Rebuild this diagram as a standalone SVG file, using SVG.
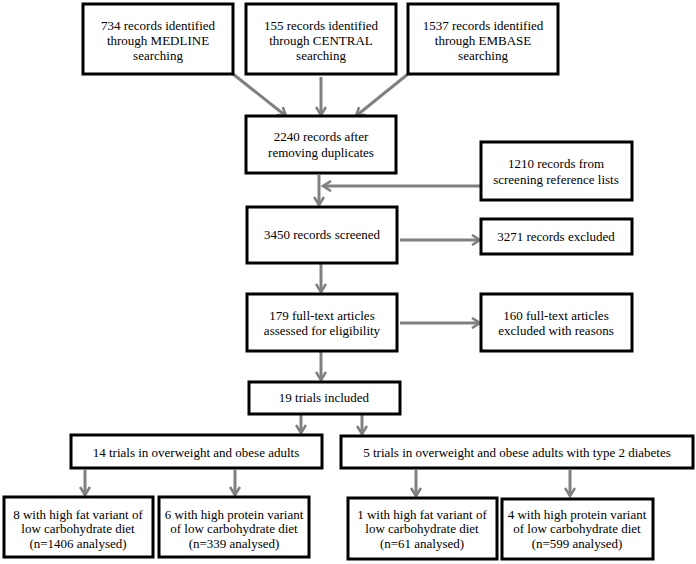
<svg xmlns="http://www.w3.org/2000/svg" width="696" height="564" viewBox="0 0 696 564" font-family="Liberation Serif, serif">
<style>
.box{fill:#fff;stroke:#000;stroke-width:3}
.t{font-size:13px;fill:#000;text-anchor:middle}
.c{fill:none;stroke:#808080;stroke-width:3;marker-end:url(#ah)}
</style>
<defs>
<marker id="ah" viewBox="0 0 12 12" refX="10" refY="6" markerWidth="12" markerHeight="12" markerUnits="userSpaceOnUse" orient="auto">
<path d="M2,1 L10,6 L2,11" fill="none" stroke="#808080" stroke-width="2.6"/>
</marker>
</defs>
<rect width="696" height="564" fill="#fff"/>
<g id="connectors">
<line class="c" x1="233" y1="74" x2="286" y2="116"/>
<line class="c" x1="321" y1="77" x2="321" y2="115"/>
<line class="c" x1="408" y1="74" x2="356" y2="116"/>
<line class="c" x1="481" y1="186" x2="323" y2="186"/>
<line class="c" x1="319" y1="175" x2="319" y2="205"/>
<line class="c" x1="400" y1="240" x2="480" y2="240"/>
<line class="c" x1="321" y1="264" x2="321" y2="292"/>
<line class="c" x1="400" y1="323" x2="480" y2="323"/>
<line class="c" x1="321" y1="352" x2="321" y2="380"/>
<line class="c" x1="301" y1="415" x2="301" y2="433"/>
<line class="c" x1="362" y1="415" x2="362" y2="434"/>
<line class="c" x1="85" y1="470" x2="85" y2="495"/>
<line class="c" x1="235" y1="470" x2="235" y2="495"/>
<line class="c" x1="416" y1="470" x2="416" y2="496"/>
<line class="c" x1="570" y1="470" x2="570" y2="496"/>
</g>
<g id="medline"><rect class="box" x="83" y="4" width="150" height="70"/>
<text class="t" x="158" y="30">734 records identified</text><text class="t" x="158" y="45">through MEDLINE</text><text class="t" x="158" y="60">searching</text></g>
<g id="central"><rect class="box" x="246" y="4" width="150" height="70"/>
<text class="t" x="321" y="30">155 records identified</text><text class="t" x="321" y="45">through CENTRAL</text><text class="t" x="321" y="60">searching</text></g>
<g id="embase"><rect class="box" x="408" y="4" width="150" height="70"/>
<text class="t" x="483" y="30">1537 records identified</text><text class="t" x="483" y="45">through EMBASE</text><text class="t" x="483" y="60">searching</text></g>
<g id="dedup"><rect class="box" x="246" y="116" width="150" height="57"/>
<text class="t" x="321" y="141">2240 records after</text><text class="t" x="321" y="157">removing duplicates</text></g>
<g id="reflists"><rect class="box" x="481" y="142" width="151" height="58"/>
<text class="t" x="556" y="168">1210 records from</text><text class="t" x="556" y="184">screening reference lists</text></g>
<g id="screened"><rect class="box" x="247" y="207" width="150" height="56"/>
<text class="t" x="322" y="239">3450 records screened</text></g>
<g id="excluded"><rect class="box" x="481" y="219" width="151" height="35"/>
<text class="t" x="556" y="241">3271 records excluded</text></g>
<g id="fulltext"><rect class="box" x="247" y="294" width="150" height="57"/>
<text class="t" x="322" y="320">179 full-text articles</text><text class="t" x="322" y="335">assessed for eligibility</text></g>
<g id="ftexcluded"><rect class="box" x="481" y="294" width="151" height="57"/>
<text class="t" x="556" y="320">160 full-text articles</text><text class="t" x="556" y="335">excluded with reasons</text></g>
<g id="included"><rect class="box" x="249" y="382" width="151" height="32"/>
<text class="t" x="324" y="402">19 trials included</text></g>
<g id="obese"><rect class="box" x="71" y="435" width="251" height="33"/>
<text class="t" x="196" y="457">14 trials in overweight and obese adults</text></g>
<g id="diabetes"><rect class="box" x="341" y="436" width="352" height="32"/>
<text class="t" x="517" y="457">5 trials in overweight and obese adults with type 2 diabetes</text></g>
<g id="ob-fat"><rect class="box" x="4" y="497" width="149" height="60"/>
<text class="t" x="78" y="519">8 with high fat variant of</text><text class="t" x="78" y="533">low carbohydrate diet</text><text class="t" x="78" y="548">(n=1406 analysed)</text></g>
<g id="ob-protein"><rect class="box" x="159" y="497" width="150" height="60"/>
<text class="t" x="234" y="519">6 with high protein variant</text><text class="t" x="234" y="533">of low carbohydrate diet</text><text class="t" x="234" y="548">(n=339 analysed)</text></g>
<g id="db-fat"><rect class="box" x="348" y="498" width="149" height="61"/>
<text class="t" x="422" y="519">1 with high fat variant of</text><text class="t" x="422" y="533">low carbohydrate diet</text><text class="t" x="422" y="548">(n=61 analysed)</text></g>
<g id="db-protein"><rect class="box" x="502" y="499" width="151" height="60"/>
<text class="t" x="577" y="519">4 with high protein variant</text><text class="t" x="577" y="533">of low carbohydrate diet</text><text class="t" x="577" y="548">(n=599 analysed)</text></g>
</svg>
